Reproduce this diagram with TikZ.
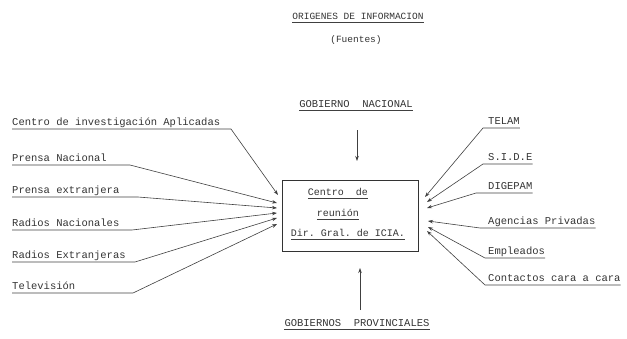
\documentclass[tikz,border=0pt]{standalone}
\usepackage{fontspec}
\setmonofont{Liberation Mono}
\usetikzlibrary{arrows.meta}
\begin{document}
\begin{tikzpicture}[x=1pt,y=-1pt,
  lbl/.style={font=\ttfamily\fontsize{10.5}{12}\selectfont, text=black!80, inner sep=0pt, anchor=base west},
  ctr/.style={lbl, anchor=base},
  ln/.style={draw=black!75, line width=0.6pt},
  arr/.style={ln, -{Stealth[length=5pt,width=3.5pt]}},
  boxst/.style={draw=black!80, line width=0.7pt}]
\useasboundingbox (0,0) rectangle (627,338);
% title
\node[ctr, font=\ttfamily\fontsize{9.5}{11}\selectfont] (title) at (358,19) {ORIGENES DE INFORMACION};
\draw[ln] ([yshift=-3pt]title.base west) -- ([yshift=-3pt]title.base east);
\node[ctr, font=\ttfamily\fontsize{9.5}{11}\selectfont] (sub) at (356,42) {(Fuentes)};
% central box
\node[boxst, minimum width=136pt, minimum height=71pt, inner sep=0pt] (box) at (350,216) {};
\node[ctr, font=\ttfamily\fontsize{10}{12}\selectfont] (b1) at (338,195) {Centro\ \ de};
\node[ctr, font=\ttfamily\fontsize{10}{12}\selectfont] (b2) at (338,216) {reunión};
\node[ctr, font=\ttfamily\fontsize{10}{12}\selectfont] (b3) at (348,236) {Dir. Gral. de ICIA.};
\foreach \n in {b1,b2,b3}{\draw[ln] ([yshift=-3pt]\n.base west) -- ([yshift=-3pt]\n.base east);}
% top and bottom
\node[ctr] (top) at (356,107) {GOBIERNO\ \ NACIONAL};
\draw[ln] ([yshift=-3pt]top.base west) -- ([yshift=-3pt]top.base east);
\coordinate (topa) at (357,130);
\coordinate (topb) at (357,161);
\draw[arr] (topa) -- (topb);
\node[ctr] (bot) at (357,326) {GOBIERNOS\ \ PROVINCIALES};
\draw[ln] ([yshift=-3pt]bot.base west) -- ([yshift=-3pt]bot.base east);
\coordinate (bota) at (360,310);
\coordinate (botb) at (360,268);
\draw[arr] (bota) -- (botb);
% left sources
\node[lbl] (l1) at (12,125) {Centro de investigación Aplicadas};
\node[lbl] (l2) at (12,161) {Prensa Nacional};
\node[lbl] (l3) at (12,193) {Prensa extranjera};
\node[lbl] (l4) at (12,226) {Radios Nacionales};
\node[lbl] (l5) at (12,258) {Radios Extranjeras};
\node[lbl] (l6) at (12,289) {Televisión};
\coordinate (l1e) at (231,129); \coordinate (l1t) at (278,195);
\coordinate (l2e) at (130,165); \coordinate (l2t) at (277,203);
\coordinate (l3e) at (138,197); \coordinate (l3t) at (277,208);
\coordinate (l4e) at (132,230); \coordinate (l4t) at (277,213);
\coordinate (l5e) at (135,262); \coordinate (l5t) at (277,218);
\coordinate (l6e) at (133,293); \coordinate (l6t) at (277,224);
\foreach \i in {1,...,6}{\draw[arr] ([yshift=-4pt]l\i.base west) -- (l\i e) -- (l\i t);}
% right sources
\node[lbl] (r1) at (488,124) {TELAM};
\node[lbl] (r2) at (488,160) {S.I.D.E};
\node[lbl] (r3) at (488,189) {DIGEPAM};
\node[lbl] (r4) at (488,224) {Agencias Privadas};
\node[lbl] (r5) at (488,254) {Empleados};
\node[lbl] (r6) at (488,281) {Contactos cara a cara};
\coordinate (r1s) at (483,128); \coordinate (r1t) at (425,197);
\coordinate (r2s) at (483,164); \coordinate (r2t) at (427,202);
\coordinate (r3s) at (476,193); \coordinate (r3t) at (427,208);
\coordinate (r4s) at (480,228); \coordinate (r4t) at (428,221);
\coordinate (r5s) at (485,258); \coordinate (r5t) at (428,227);
\coordinate (r6s) at (485,285); \coordinate (r6t) at (427,231);
\foreach \i in {1,...,6}{\draw[arr] ([yshift=-4pt]r\i.base east) -- (r\i s) -- (r\i t);}
\end{tikzpicture}
\end{document}
